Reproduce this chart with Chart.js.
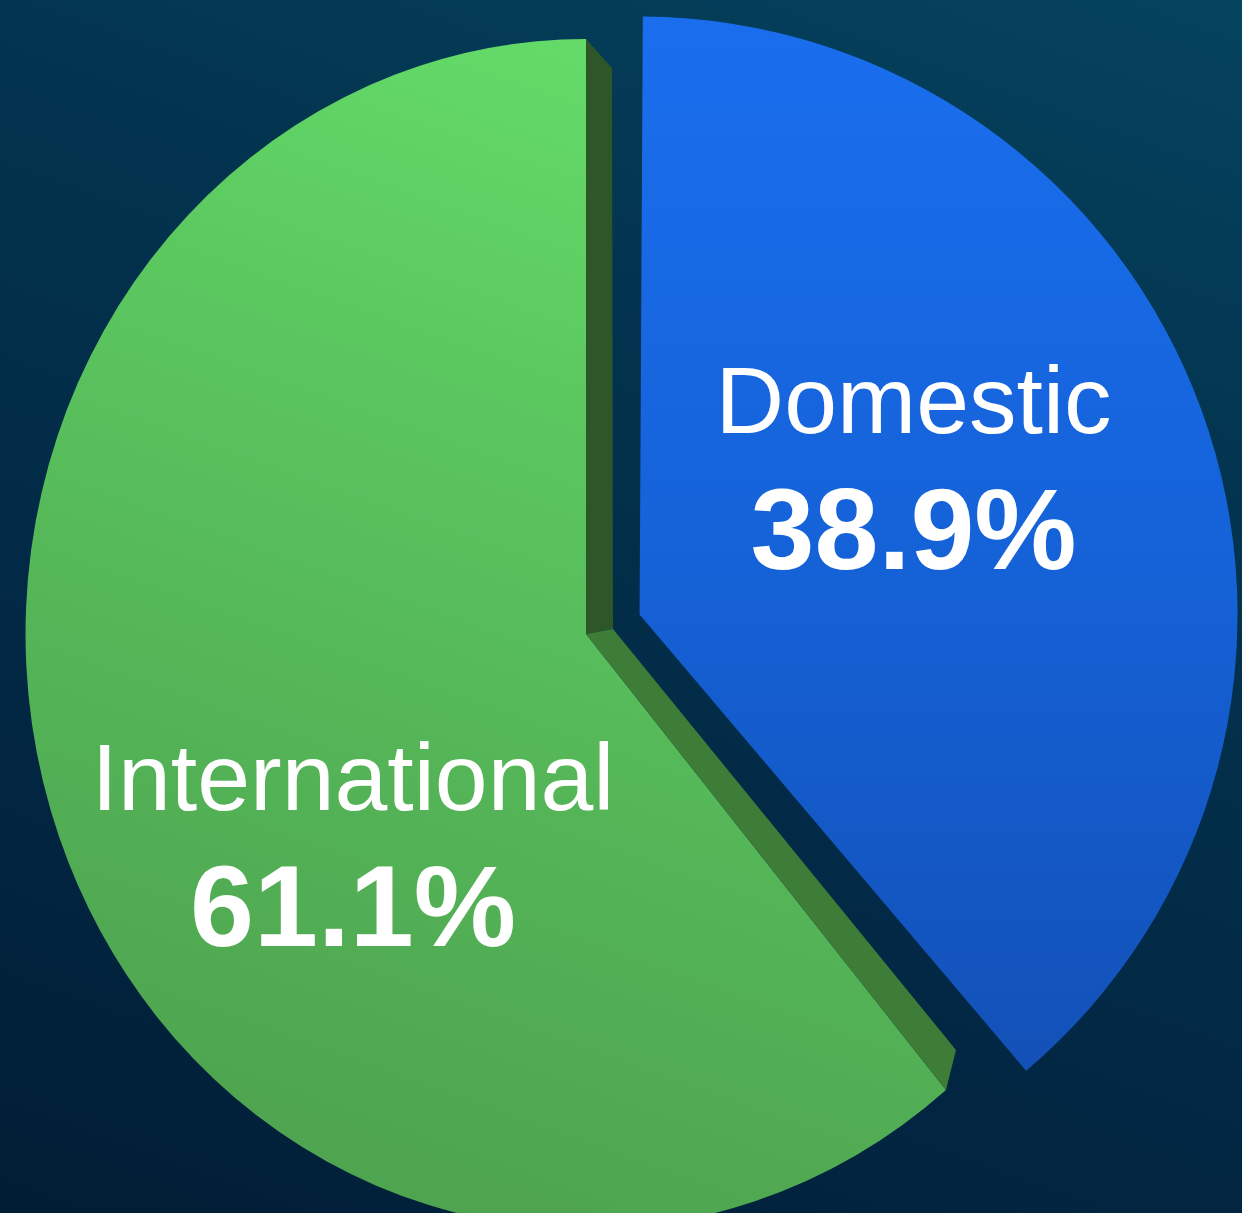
<!DOCTYPE html>
<html>
<head>
<meta charset="utf-8">
<script src="https://cdn.jsdelivr.net/npm/chart.js@4/dist/chart.umd.min.js"></script>
<style>
  html, body { margin: 0; padding: 0; }
  body {
    width: 1242px;
    height: 1213px;
    overflow: hidden;
    background: linear-gradient(200deg, #05435f 0%, #03344f 30%, #022845 65%, #011d35 100%);
  }
  #wrap { position: relative; width: 1242px; height: 1213px; }
</style>
</head>
<body>
<div id="wrap"><canvas id="pie"></canvas></div>
<script>
const categories = ['Domestic', 'International'];
const shares = [38.9, 61.1];
const shareLabels = ['38.9%', '61.1%'];
const explode = [228, 0];

// drawing geometry
const W = 1242, H = 1213;
const center = { x: 586, y: 634 };
const radius = 595;
const sliceRadius = [598, 595];
const sliceSquash = [1, 0.942]; // the green slice is a bit narrower than tall
const labelNudge = [[274, -114], [-233, 244]];

const sliceFill = (ctx) => {
  const c = ctx.chart.ctx;
  if (ctx.dataIndex === 0) {
    const g = c.createLinearGradient(0, center.y - radius, 0, center.y + radius * 0.8);
    g.addColorStop(0, '#1a6eee');
    g.addColorStop(0.5, '#1562d8');
    g.addColorStop(1, '#1350b6');
    return g;
  }
  const g = c.createLinearGradient(center.x + 250, center.y - radius, center.x - 150, center.y + radius);
  g.addColorStop(0, '#66e06b');
  g.addColorStop(0.35, '#5bc75f');
  g.addColorStop(0.7, '#53b256');
  g.addColorStop(1, '#4ea34f');
  return g;
};

const arcPoint = (arc, angle, r, sx) => ({
  x: arc.x + Math.cos(angle) * r * sx,
  y: arc.y + Math.sin(angle) * r,
});

const shapePlugin = {
  id: 'shape',
  beforeDatasetDraw(chart, args) {
    const c = chart.ctx;
    args.meta.data.forEach((arc, i) => {
      // Chart.js grows exploded slices; size each one directly
      const off = (arc.options.offset || 0) / 4;
      arc.outerRadius = sliceRadius[i] - off * (1 - Math.sin(Math.min(Math.PI, arc.circumference)));
      c.save();
      c.translate(arc.x, 0);
      c.scale(sliceSquash[i], 1);
      c.translate(-arc.x, 0);
      arc.draw(c);
      c.restore();
    });
    return false;
  },
  afterDatasetsDraw(chart) {
    const c = chart.ctx;
    // side faces of the green slice
    const arc = chart.getDatasetMeta(0).data[1];
    const C = { x: arc.x, y: arc.y };
    const T = arcPoint(arc, arc.endAngle, sliceRadius[1], sliceSquash[1]);
    const B = arcPoint(arc, arc.startAngle, sliceRadius[1], sliceSquash[1]);

    c.fillStyle = '#2d5729';
    c.beginPath();
    c.moveTo(C.x, C.y);
    c.lineTo(T.x, T.y);
    c.lineTo(T.x + 26, T.y + 29);
    c.lineTo(C.x + 27, C.y - 5);
    c.closePath();
    c.fill();

    c.fillStyle = '#3d7d38';
    c.beginPath();
    c.moveTo(C.x, C.y);
    c.lineTo(C.x + 27, C.y - 5);
    c.lineTo(B.x + 10, B.y - 40);
    c.lineTo(B.x, B.y);
    c.closePath();
    c.fill();
  },
  afterDraw(chart) {
    const c = chart.ctx;
    c.save();
    c.fillStyle = '#ffffff';
    c.textAlign = 'center';
    c.textBaseline = 'alphabetic';
    chart.getDatasetMeta(0).data.forEach((arc, i) => {
      const mid = (arc.startAngle + arc.endAngle) / 2;
      const off = (arc.options.offset || 0) / 4;
      const x = arc.x + Math.cos(mid) * off * sliceSquash[i] + labelNudge[i][0];
      const y = arc.y + Math.sin(mid) * off + labelNudge[i][1];
      c.font = '95px "Liberation Sans", Arial, sans-serif';
      c.fillText(categories[i], x, y - 68);
      c.font = 'bold 115px "Liberation Sans", Arial, sans-serif';
      c.fillText(shareLabels[i], x, y + 68);
    });
    c.restore();
  },
};

new Chart(document.getElementById('pie'), {
  type: 'pie',
  data: {
    labels: categories,
    datasets: [{
      data: shares,
      backgroundColor: sliceFill,
      borderWidth: 0,
      offset: explode,
    }],
  },
  options: {
    responsive: true,
    maintainAspectRatio: false,
    animation: false,
    events: [],
    radius: radius,
    layout: {
      padding: {
        left: 0,
        right: W - 2 * center.x,
        top: 2 * center.y - H,
        bottom: 0,
      },
    },
    plugins: {
      legend: { display: false },
      tooltip: { enabled: false },
    },
  },
  plugins: [shapePlugin],
});
</script>
</body>
</html>
